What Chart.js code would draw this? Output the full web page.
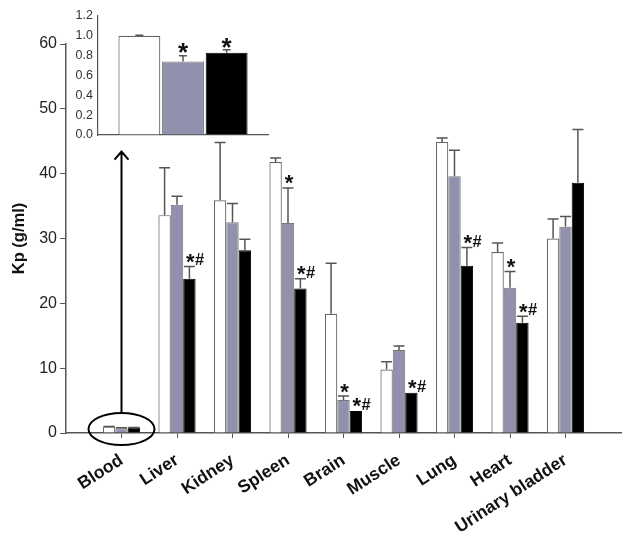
<!DOCTYPE html>
<html>
<head>
<meta charset="utf-8">
<script src="https://cdn.jsdelivr.net/npm/chart.js@4.4.1/dist/chart.umd.min.js"></script>
<style>
  html, body { margin: 0; padding: 0; background: #fff; }
  #wrap { position: relative; width: 629px; height: 540px; }
  #main, #inset { position: absolute; left: 0; top: 0; }
</style>
</head>
<body>
<div id="wrap">
  <canvas id="main" width="629" height="540"></canvas>
  <canvas id="inset" width="300" height="150"></canvas>
</div>
<script>
// ---- data ----
const categories = ["Blood", "Liver", "Kidney", "Spleen", "Brain", "Muscle", "Lung", "Heart", "Urinary bladder"];
const whiteValues = [1.0, 33.6, 35.9, 41.8, 18.4, 9.8, 44.9, 27.9, 30.0];
const whiteErrors = [0.005, 7.3, 8.9, 0.6, 7.8, 1.2, 0.6, 1.4, 3.0];
const grayValues = [0.74, 35.2, 32.5, 32.4, 5.1, 12.8, 39.6, 22.4, 31.8];
const grayErrors = [0.06, 1.3, 2.9, 5.4, 0.6, 0.6, 4.0, 2.5, 1.6];
const blackValues = [0.83, 23.8, 28.2, 22.3, 3.4, 6.2, 25.8, 17.0, 38.6];
const blackErrors = [0.03, 1.9, 1.7, 1.5, 0, 0, 2.8, 1.0, 8.2];
const grayMarks = ["", "", "", "*", "*", "", "", "*", ""];
const blackMarks = ["", "*#", "", "*#", "*#", "*#", "*#", "*#", ""];
const yTicks = [0, 10, 20, 30, 40, 50, 60];
const insetTicks = [0, 0.2, 0.4, 0.6, 0.8, 1.0, 1.2];
const insetMarks = ["", "*", "*"];

const FONT = "'Liberation Sans', Arial, sans-serif";
const AXIS = "#555";
const GRAY = "#9191ad";

// pad one empty slot on each side so the categories sit at 1..9 of 0..10
const pad = (arr) => [null].concat(arr, [null]);

// draw "*" and "#" so both sit on the same centre line
function drawMark(ctx, text, x, yc, starSize, hashSize) {
  let cx = x;
  for (const ch of text) {
    if (ch === "*") {
      ctx.font = "bold " + starSize + "px " + FONT;
      ctx.fillText("*", cx, yc + starSize * 0.57);
      cx += starSize * 0.42;
    } else {
      ctx.font = "bold " + hashSize + "px " + FONT;
      ctx.fillText("#", cx, yc + hashSize * 0.36 + 3);
      cx += hashSize * 0.6;
    }
  }
}

function drawErrors(chart, errs, capW) {
  const { ctx } = chart;
  const yScale = chart.scales.y;
  ctx.save();
  ctx.strokeStyle = AXIS;
  ctx.lineWidth = 1.5;
  chart.data.datasets.forEach((ds, di) => {
    const meta = chart.getDatasetMeta(di);
    meta.data.forEach((bar, i) => {
      const v = ds.data[i];
      const e = errs[di][i];
      if (v == null || !e) return;
      const yTop = yScale.getPixelForValue(v + e);
      ctx.beginPath();
      ctx.moveTo(bar.x, bar.y);
      ctx.lineTo(bar.x, yTop);
      ctx.moveTo(bar.x - capW / 2, yTop);
      ctx.lineTo(bar.x + capW / 2, yTop);
      ctx.stroke();
    });
  });
  ctx.restore();
}

// ---- main chart ----
const mainPlugin = {
  id: "mainExtras",
  afterDatasetsDraw(chart) {
    const { ctx } = chart;
    const xs = chart.scales.x;
    const ys = chart.scales.y;
    const errs = [pad(whiteErrors), pad(grayErrors), pad(blackErrors)];
    drawErrors(chart, errs, 11);

    // significance marks
    ctx.save();
    ctx.fillStyle = "#111";
    ctx.textAlign = "center";
    const marks = [null, pad(grayMarks), pad(blackMarks)];
    [1, 2].forEach((di) => {
      const meta = chart.getDatasetMeta(di);
      meta.data.forEach((bar, i) => {
        const m = marks[di][i];
        if (!m) return;
        const v = chart.data.datasets[di].data[i] + (errs[di][i] || 0);
        const yc = ys.getPixelForValue(v) - 10;
        drawMark(ctx, m, bar.x + 1, yc, 22, 16.5);
      });
    });
    ctx.restore();

    // ellipse around Blood and arrow to the inset
    const bx = xs.getPixelForValue(1);
    const cy = ys.getPixelForValue(0) - 4;
    ctx.save();
    ctx.strokeStyle = "#000";
    ctx.lineWidth = 2;
    ctx.beginPath();
    ctx.ellipse(bx, cy, 33, 16, 0, 0, Math.PI * 2);
    ctx.stroke();
    const tip = ys.getPixelForValue(43.4);
    ctx.beginPath();
    ctx.moveTo(bx, cy - 16);
    ctx.lineTo(bx, tip);
    ctx.moveTo(bx - 7, tip + 8);
    ctx.lineTo(bx, tip);
    ctx.lineTo(bx + 7, tip + 8);
    ctx.stroke();
    ctx.restore();
  },
};

const mainChart = new Chart(document.getElementById("main").getContext("2d"), {
  type: "bar",
  data: {
    labels: [""].concat(categories, [""]),
    datasets: [
      { data: pad(whiteValues), backgroundColor: "#fff", borderColor: "#666", borderWidth: 1.2 },
      { data: pad(grayValues), backgroundColor: GRAY, borderColor: "#777", borderWidth: 1 },
      { data: pad(blackValues), backgroundColor: "#000", borderColor: "#000", borderWidth: 1 },
    ],
  },
  options: {
    responsive: false,
    animation: false,
    categoryPercentage: 0.67,
    barPercentage: 1.0,
    layout: { padding: { top: 44, right: 8, left: 0, bottom: 0 } },
    plugins: { legend: { display: false }, tooltip: { enabled: false } },
    scales: {
      x: {
        offset: false,
        grid: {
          offset: false,
          drawOnChartArea: false,
          tickLength: 5,
          tickColor: (c) => (c.index === 0 || c.index === categories.length + 1 ? "rgba(0,0,0,0)" : AXIS),
        },
        border: { display: true, color: AXIS, width: 1.5 },
        ticks: {
          autoSkip: false,
          minRotation: 33,
          maxRotation: 33,
          padding: 12,
          color: "#111",
          font: { family: FONT, size: 17.5, weight: "bold" },
        },
        afterFit: (s) => {
          s.height = 540 - 433;
          s.paddingLeft = 0;
          s.paddingRight = 0;
        },
      },
      y: {
        min: yTicks[0],
        max: yTicks[yTicks.length - 1],
        afterBuildTicks: (s) => { s.ticks = yTicks.map((v) => ({ value: v })); },
        grid: { drawOnChartArea: false, tickLength: 6, tickColor: AXIS },
        border: { display: true, color: AXIS, width: 1.5 },
        ticks: { padding: 3, color: "#222", font: { family: FONT, size: 16 } },
        title: {
          display: true,
          text: "Kp (g/ml)",
          color: "#111",
          padding: { top: 10, bottom: 0 },
          font: { family: FONT, size: 16.5, weight: "bold" },
        },
        afterFit: (s) => { s.width = 66; },
      },
    },
  },
  plugins: [mainPlugin],
});

// ---- inset: Blood on its own scale ----
const insetPlugin = {
  id: "insetExtras",
  afterDatasetsDraw(chart) {
    const { ctx } = chart;
    const ys = chart.scales.y;
    const errs = [[whiteErrors[0]], [grayErrors[0]], [blackErrors[0]]];
    drawErrors(chart, errs, 8);
    ctx.save();
    ctx.fillStyle = "#111";
    ctx.textAlign = "center";
    chart.data.datasets.forEach((ds, di) => {
      const m = insetMarks[di];
      if (!m) return;
      const bar = chart.getDatasetMeta(di).data[0];
      const yc = ys.getPixelForValue(ds.data[0] + errs[di][0]) - 9;
      drawMark(ctx, m, bar.x, yc, 26, 18);
    });
    ctx.restore();
  },
};

const insetChart = new Chart(document.getElementById("inset").getContext("2d"), {
  type: "bar",
  data: {
    labels: [categories[0]],
    datasets: [
      { data: [whiteValues[0]], backgroundColor: "#fff", borderColor: "#666", borderWidth: 1.2 },
      { data: [grayValues[0]], backgroundColor: GRAY, borderColor: "#777", borderWidth: 1 },
      { data: [blackValues[0]], backgroundColor: "#000", borderColor: "#000", borderWidth: 1 },
    ],
  },
  options: {
    responsive: false,
    animation: false,
    categoryPercentage: 0.77,
    barPercentage: 0.96,
    layout: { padding: { top: 16, right: 32, left: 0, bottom: 15 } },
    plugins: { legend: { display: false }, tooltip: { enabled: false } },
    scales: {
      x: {
        grid: { display: false },
        border: { display: true, color: AXIS, width: 1.2 },
        ticks: { display: false },
        afterFit: (s) => { s.height = 0; },
      },
      y: {
        min: insetTicks[0],
        max: insetTicks[insetTicks.length - 1],
        afterBuildTicks: (s) => { s.ticks = insetTicks.map((v) => ({ value: v })); },
        grid: { drawOnChartArea: false, drawTicks: false },
        border: { display: true, color: AXIS, width: 1.2 },
        ticks: {
          padding: 5,
          color: "#333",
          font: { family: FONT, size: 12.5 },
          callback: (v) => Number(v).toFixed(1),
        },
        afterFit: (s) => { s.width = 98; },
      },
    },
  },
  plugins: [insetPlugin],
});
</script>
</body>
</html>
